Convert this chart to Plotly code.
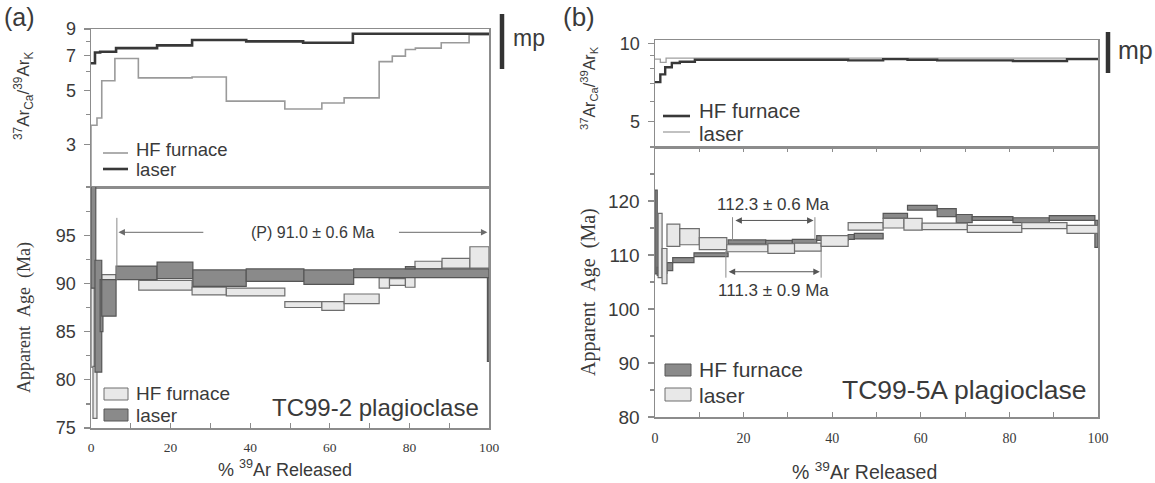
import math
import plotly.graph_objects as go

W, H = 1155, 483

# ---------------- DATA ----------------
# Panel (a) upper: 37ArCa/39ArK step lines (left edge of step, value); last repeated at 100
a_ratio_laser_x = [0, 1.0, 2.3, 6.3, 16.6, 25.4, 39.0, 53.3, 65.8, 100]
a_ratio_laser_v = [6.5, 7.2, 7.25, 7.5, 7.7, 8.1, 8.0, 7.9, 8.6, 8.6]
a_ratio_hf_x = [0, 0, 1.5, 2.7, 6.0, 11.9, 25.4, 34.0, 48.7, 58.0, 63.6, 72.4, 75.7, 79.0, 81.5, 88.0, 95.0, 100]
a_ratio_hf_v = [2.0, 3.6, 3.86, 5.5, 6.8, 5.65, 5.7, 4.53, 4.2, 4.45, 4.67, 6.6, 6.95, 7.4, 7.5, 7.9, 8.5, 8.5]

# Panel (a) lower: age spectrum boxes (left %, right %, low Ma, high Ma)
a_hf_left = [0.0, 0.5, 2.7, 12.0, 25.4, 34.0, 48.7, 58.0, 63.6, 72.4, 75.0, 79.0, 81.4, 88.2, 95.2]
a_hf_right = [0.8, 1.5, 6.3, 25.4, 34.0, 48.7, 58.0, 63.6, 72.4, 75.0, 79.0, 81.4, 88.2, 95.2, 100.0]
a_hf_low = [81.3, 76.0, 90.4, 89.3, 88.8, 88.7, 87.5, 87.2, 87.9, 89.5, 89.8, 89.6, 91.5, 91.6, 91.6]
a_hf_high = [89.8, 81.4, 90.9, 90.3, 89.6, 89.5, 88.1, 88.1, 88.9, 90.6, 90.5, 90.7, 92.3, 92.6, 93.8]

a_laser_left = [0.0, 1.0, 2.3, 2.7, 6.3, 16.6, 25.6, 39.0, 53.5, 66.0, 79.0, 99.6]
a_laser_right = [1.2, 2.7, 3.0, 6.3, 16.6, 25.6, 39.0, 53.5, 66.0, 100.0, 81.4, 100.0]
a_laser_low = [89.5, 80.8, 85.0, 86.6, 90.4, 90.5, 89.7, 90.2, 89.9, 90.6, 91.5, 81.9]
a_laser_high = [104.0, 92.4, 90.4, 90.4, 91.8, 92.2, 91.4, 91.5, 91.4, 91.5, 91.75, 90.6]

# Panel (a) plateau
a_plateau_text = "(P) 91.0 ± 0.6 Ma"
a_plateau_from, a_plateau_to, a_plateau_y = 6.5, 100.0, 95.3

# Panel (b) upper
b_ratio_hf_x = [0, 1.2, 2.3, 3.8, 5.6, 9.0, 43.6, 51.5, 57.0, 63.7, 80.8, 93.0, 100]
b_ratio_hf_v = [7.1, 7.6, 8.1, 8.4, 8.5, 8.65, 8.6, 8.7, 8.65, 8.6, 8.55, 8.7, 8.7]
b_ratio_laser_x = [0, 1.2, 2.5, 100]
b_ratio_laser_v = [8.7, 8.45, 8.78, 8.78]

# Panel (b) lower
b_hf_left = [0.0, 0.5, 1.2, 2.7, 4.0, 8.8, 16.5, 25.0, 31.0, 36.5, 43.6, 45.0, 51.5, 57.0, 63.7, 68.0, 71.6, 80.8, 89.0, 99.3]
b_hf_right = [0.5, 1.4, 2.7, 4.0, 8.8, 16.5, 25.0, 31.0, 36.5, 43.6, 45.0, 51.5, 57.0, 63.7, 68.0, 71.6, 80.8, 89.0, 99.3, 100.0]
b_hf_low = [106.5, 106.2, 106.6, 107.1, 108.6, 109.7, 112.0, 111.9, 112.1, 112.7, 112.9, 113.0, 116.8, 118.3, 117.1, 116.0, 116.4, 116.0, 116.4, 111.4]
b_hf_high = [122.0, 107.7, 108.2, 108.6, 109.5, 110.4, 112.8, 112.7, 112.9, 113.6, 113.8, 114.0, 117.7, 119.2, 118.6, 117.5, 117.1, 116.9, 117.3, 116.4]

b_laser_left = [0.7, 1.6, 2.7, 5.6, 10.0, 16.2, 25.5, 31.5, 37.5, 43.6, 51.5, 56.2, 60.3, 70.5, 82.8, 93.0]
b_laser_right = [1.6, 2.7, 5.6, 10.0, 16.2, 25.5, 31.5, 37.5, 43.6, 51.5, 56.2, 60.3, 70.5, 82.8, 93.0, 100.0]
b_laser_low = [105.8, 104.7, 111.6, 111.9, 111.0, 110.6, 110.3, 110.7, 111.6, 114.6, 115.0, 114.6, 114.7, 114.2, 114.9, 114.0]
b_laser_high = [117.7, 111.2, 115.7, 114.9, 113.2, 111.9, 112.1, 112.2, 113.6, 116.0, 116.8, 116.8, 115.9, 115.5, 116.0, 115.5]

b_plateau1_text = "112.3 ± 0.6 Ma"
b_plateau1_from, b_plateau1_to, b_plateau1_y = 17.5, 36.1, 116.4
b_plateau2_text = "111.3 ± 0.9 Ma"
b_plateau2_from, b_plateau2_to, b_plateau2_y = 16.0, 37.5, 106.9

x_ticks = [0, 20, 40, 60, 80, 100]
a_top_ticks = [3, 5, 7, 9]
a_bot_ticks = [75, 80, 85, 90, 95]
b_top_ticks = [5, 10]
b_bot_ticks = [80, 90, 100, 110, 120]

# ---------------- STYLE ----------------
SANS = "Liberation Sans, Arial, sans-serif"
SERIF = "Liberation Serif, Times New Roman, serif"
TXT = "#3a3a3a"
AX = "#8c8c8c"
DARK_FILL, DARK_EDGE = "#8a8a8a", "#565656"
LIGHT_FILL, LIGHT_EDGE = "#e8e8e8", "#6e6e6e"


def fx(px):
    return px / W


def fy(py):
    return 1 - py / H


def boxes(left, right, low, high, fill, edge, xa, ya):
    centers = [(l + r) / 2 for l, r in zip(left, right)]
    widths = [r - l for l, r in zip(left, right)]
    heights = [h - lo for lo, h in zip(low, high)]
    return go.Bar(x=centers, width=widths, base=low, y=heights,
                  marker=dict(color=fill, line=dict(color=edge, width=1.2)),
                  xaxis=xa, yaxis=ya, showlegend=False, hoverinfo="skip")


def steps(x, v, color, width, xa, ya):
    return go.Scatter(x=x, y=v, mode="lines", line=dict(shape="hv", color=color, width=width),
                      xaxis=xa, yaxis=ya, showlegend=False, hoverinfo="skip")


fig = go.Figure()
# (a) upper
fig.add_trace(steps(a_ratio_hf_x, a_ratio_hf_v, "#9a9a9a", 1.6, "x", "y"))
fig.add_trace(steps(a_ratio_laser_x, a_ratio_laser_v, "#383838", 2.6, "x", "y"))
# (a) lower
fig.add_trace(boxes(a_hf_left, a_hf_right, a_hf_low, a_hf_high, LIGHT_FILL, LIGHT_EDGE, "x2", "y2"))
fig.add_trace(boxes(a_laser_left, a_laser_right, a_laser_low, a_laser_high, DARK_FILL, DARK_EDGE, "x2", "y2"))
# (b) upper
fig.add_trace(steps(b_ratio_laser_x, b_ratio_laser_v, "#a0a0a0", 1.3, "x3", "y3"))
fig.add_trace(steps(b_ratio_hf_x, b_ratio_hf_v, "#383838", 2.4, "x3", "y3"))
# (b) lower
fig.add_trace(boxes(b_hf_left, b_hf_right, b_hf_low, b_hf_high, DARK_FILL, DARK_EDGE, "x4", "y4"))
fig.add_trace(boxes(b_laser_left, b_laser_right, b_laser_low, b_laser_high, LIGHT_FILL, LIGHT_EDGE, "x4", "y4"))

ax_a = [fx(91), fx(489)]
ax_b = [fx(655), fx(1098)]

common_x = dict(range=[0, 100], showline=True, linecolor=AX, linewidth=1.5, showgrid=False,
                zeroline=False, fixedrange=True, automargin=False)
common_y = dict(showline=True, linecolor=AX, linewidth=1.5, showgrid=False, zeroline=False,
                ticks="outside", tickcolor=AX, ticklen=6, tickwidth=1.2, automargin=False,
                fixedrange=True)

fig.update_layout(
    width=W, height=H, margin=dict(l=0, r=0, t=0, b=0, autoexpand=False),
    paper_bgcolor="white", plot_bgcolor="white", barmode="overlay", bargap=0,
    showlegend=False,
    xaxis=dict(domain=ax_a, anchor="y", mirror=True, ticks="", showticklabels=False, **common_x),
    yaxis=dict(domain=[fy(187), fy(29)], anchor="x", type="log",
               range=[math.log10(2), math.log10(9)], tickvals=a_top_ticks,
               tickfont=dict(family=SANS, size=18, color=TXT),
               minor=dict(tickvals=[4, 6, 8], ticks="outside", ticklen=4, tickcolor=AX),
               mirror=True, ticklabelstandoff=4, **common_y),
    xaxis2=dict(domain=ax_a, anchor="y2", mirror=True, tickvals=x_ticks, ticks="inside", ticklen=5,
                tickcolor=AX, minor=dict(dtick=10, ticks="inside", ticklen=5, tickcolor=AX),
                tickfont=dict(family=SERIF, size=13.5, color=TXT), ticklabelstandoff=6, **common_x),
    yaxis2=dict(domain=[fy(428), fy(187)], anchor="x2", range=[75, 100], tickvals=a_bot_ticks,
                tickfont=dict(family=SANS, size=18, color=TXT),
                minor=dict(dtick=2.5, ticks="outside", ticklen=4, tickcolor=AX),
                mirror=True, ticklabelstandoff=4, **common_y),
    xaxis3=dict(domain=ax_b, anchor="y3", mirror=True, ticks="", showticklabels=False, **common_x),
    yaxis3=dict(domain=[fy(147), fy(40)], anchor="x3", type="log",
                range=[math.log10(4), math.log10(10.3)], tickvals=b_top_ticks,
                tickfont=dict(family=SANS, size=18, color=TXT),
                minor=dict(tickvals=[6, 7, 8, 9], ticks="outside", ticklen=4, tickcolor=AX),
                mirror=True, ticklabelstandoff=4, **common_y),
    xaxis4=dict(domain=ax_b, anchor="y4", mirror="allticks", tickvals=x_ticks, ticks="inside", ticklen=5,
                tickcolor=AX, minor=dict(dtick=10, ticks="inside", ticklen=5, tickcolor=AX),
                tickfont=dict(family=SERIF, size=14, color=TXT), ticklabelstandoff=8, **common_x),
    yaxis4=dict(domain=[fy(417), fy(147)], anchor="x4", range=[80, 130], tickvals=b_bot_ticks,
                tickfont=dict(family=SANS, size=19, color=TXT),
                minor=dict(dtick=5, ticks="outside", ticklen=4, tickcolor=AX),
                mirror=True, ticklabelstandoff=4, **common_y),
)

ann = []
shapes = []


def text(px, py, s, size, family=SANS, xanchor="left", angle=0):
    ann.append(dict(x=fx(px), y=fy(py), xref="paper", yref="paper", text=s, showarrow=False,
                    xanchor=xanchor, yanchor="middle", textangle=angle,
                    font=dict(family=family, size=size, color=TXT)))


# panel letters and "mp" bars
text(19, 17, "(a)", 25, xanchor="center")
text(579, 17, "(b)", 26, xanchor="center")
shapes.append(dict(type="line", xref="paper", yref="paper", x0=fx(502), x1=fx(502), y0=fy(14), y1=fy(69),
                   line=dict(color="#333333", width=4.5)))
text(511, 38, "mp", 23)
shapes.append(dict(type="line", xref="paper", yref="paper", x0=fx(1108), x1=fx(1108), y0=fy(32), y1=fy(73),
                   line=dict(color="#333333", width=4.5)))
text(1116, 50, "mp", 25)

# axis titles
ratio_title = "<sup>37</sup>Ar<sub>Ca</sub>/<sup>39</sup>Ar<sub>K</sub>"
age_title = "Apparent\u00a0\u00a0Age\u00a0\u00a0(Ma)"
xtitle = "% <sup>39</sup>Ar Released"
text(24, 96, ratio_title, 17, xanchor="center", angle=-90)
text(24, 318, age_title, 18, family=SERIF, xanchor="center", angle=-90)
text(285, 468, xtitle, 18, xanchor="center")
text(589, 88, ratio_title, 16, xanchor="center", angle=-90)
text(588, 292, age_title, 20, family=SERIF, xanchor="center", angle=-90)
text(864, 471, xtitle, 19.5, xanchor="center")

# legends (a)
shapes.append(dict(type="line", xref="paper", yref="paper", x0=fx(103), x1=fx(128), y0=fy(153), y1=fy(153),
                   line=dict(color="#9a9a9a", width=1.6)))
shapes.append(dict(type="line", xref="paper", yref="paper", x0=fx(103), x1=fx(128), y0=fy(169), y1=fy(169),
                   line=dict(color="#383838", width=2.6)))
text(134, 149, "HF furnace", 18.5)
text(134, 169, "laser", 18.5)
shapes.append(dict(type="rect", xref="paper", yref="paper", x0=fx(104), x1=fx(128), y0=fy(400), y1=fy(388),
                   fillcolor=LIGHT_FILL, line=dict(color=LIGHT_EDGE, width=1)))
shapes.append(dict(type="rect", xref="paper", yref="paper", x0=fx(104), x1=fx(128), y0=fy(421), y1=fy(409),
                   fillcolor=DARK_FILL, line=dict(color=DARK_EDGE, width=1)))
text(134, 393, "HF furnace", 19)
text(134, 415, "laser", 19)
text(481, 407, "TC99-2 plagioclase", 24, xanchor="right")

# legends (b)
shapes.append(dict(type="line", xref="paper", yref="paper", x0=fx(663), x1=fx(690), y0=fy(116), y1=fy(116),
                   line=dict(color="#383838", width=2.6)))
shapes.append(dict(type="line", xref="paper", yref="paper", x0=fx(663), x1=fx(690), y0=fy(132), y1=fy(132),
                   line=dict(color="#a0a0a0", width=1.3)))
text(697, 110, "HF furnace", 20.5)
text(697, 133, "laser", 20.5)
shapes.append(dict(type="rect", xref="paper", yref="paper", x0=fx(665), x1=fx(691), y0=fy(376), y1=fy(364),
                   fillcolor=DARK_FILL, line=dict(color=DARK_EDGE, width=1)))
shapes.append(dict(type="rect", xref="paper", yref="paper", x0=fx(665), x1=fx(691), y0=fy(401), y1=fy(388),
                   fillcolor=LIGHT_FILL, line=dict(color=LIGHT_EDGE, width=1)))
text(697, 369, "HF furnace", 21)
text(697, 395, "laser", 21)
text(1089, 390, "TC99-5A plagioclase", 26.5, xanchor="right")

# plateau (a)
ann.append(dict(x=a_plateau_from + 0.4, y=a_plateau_y, ax=28.6, ay=a_plateau_y, xref="x2", yref="y2",
                axref="x2", ayref="y2", text="", showarrow=True, arrowhead=2, arrowsize=1.3,
                arrowwidth=1, arrowcolor="#6a6a6a"))
ann.append(dict(x=a_plateau_to - 0.4, y=a_plateau_y, ax=77.0, ay=a_plateau_y, xref="x2", yref="y2",
                axref="x2", ayref="y2", text="", showarrow=True, arrowhead=2, arrowsize=1.3,
                arrowwidth=1, arrowcolor="#6a6a6a"))
shapes.append(dict(type="line", xref="x2", yref="y2", x0=a_plateau_from, x1=a_plateau_from,
                   y0=96.8, y1=90.4, line=dict(color="#8a8a8a", width=1)))
ann.append(dict(x=55.8, y=a_plateau_y, xref="x2", yref="y2", text=a_plateau_text, showarrow=False,
                font=dict(family=SANS, size=16, color=TXT)))

# plateau (b)
for frm, to, yv, lab, ty, vy0, vy1 in [
    (b_plateau1_from, b_plateau1_to, b_plateau1_y, b_plateau1_text, 119.3, 117.0, 112.7),
    (b_plateau2_from, b_plateau2_to, b_plateau2_y, b_plateau2_text, 103.4, 110.8, 105.8),
]:
    ann.append(dict(x=to - 0.3, y=yv, ax=frm + 0.3, ay=yv, xref="x4", yref="y4", axref="x4", ayref="y4",
                    text="", showarrow=True, arrowhead=2, arrowside="end+start", arrowsize=1.3,
                    arrowwidth=1, arrowcolor="#555555"))
    for xv in (frm, to):
        shapes.append(dict(type="line", xref="x4", yref="y4", x0=xv, x1=xv, y0=vy0, y1=vy1,
                           line=dict(color="#8a8a8a", width=1)))
    ann.append(dict(x=(frm + to) / 2, y=ty, xref="x4", yref="y4", text=lab, showarrow=False,
                    font=dict(family=SANS, size=17, color=TXT)))

fig.update_layout(annotations=ann, shapes=shapes)
fig.write_html("out.html", config={"displayModeBar": False, "staticPlot": True},
               post_script="document.body.style.margin='0';document.body.style.overflow='hidden';")
